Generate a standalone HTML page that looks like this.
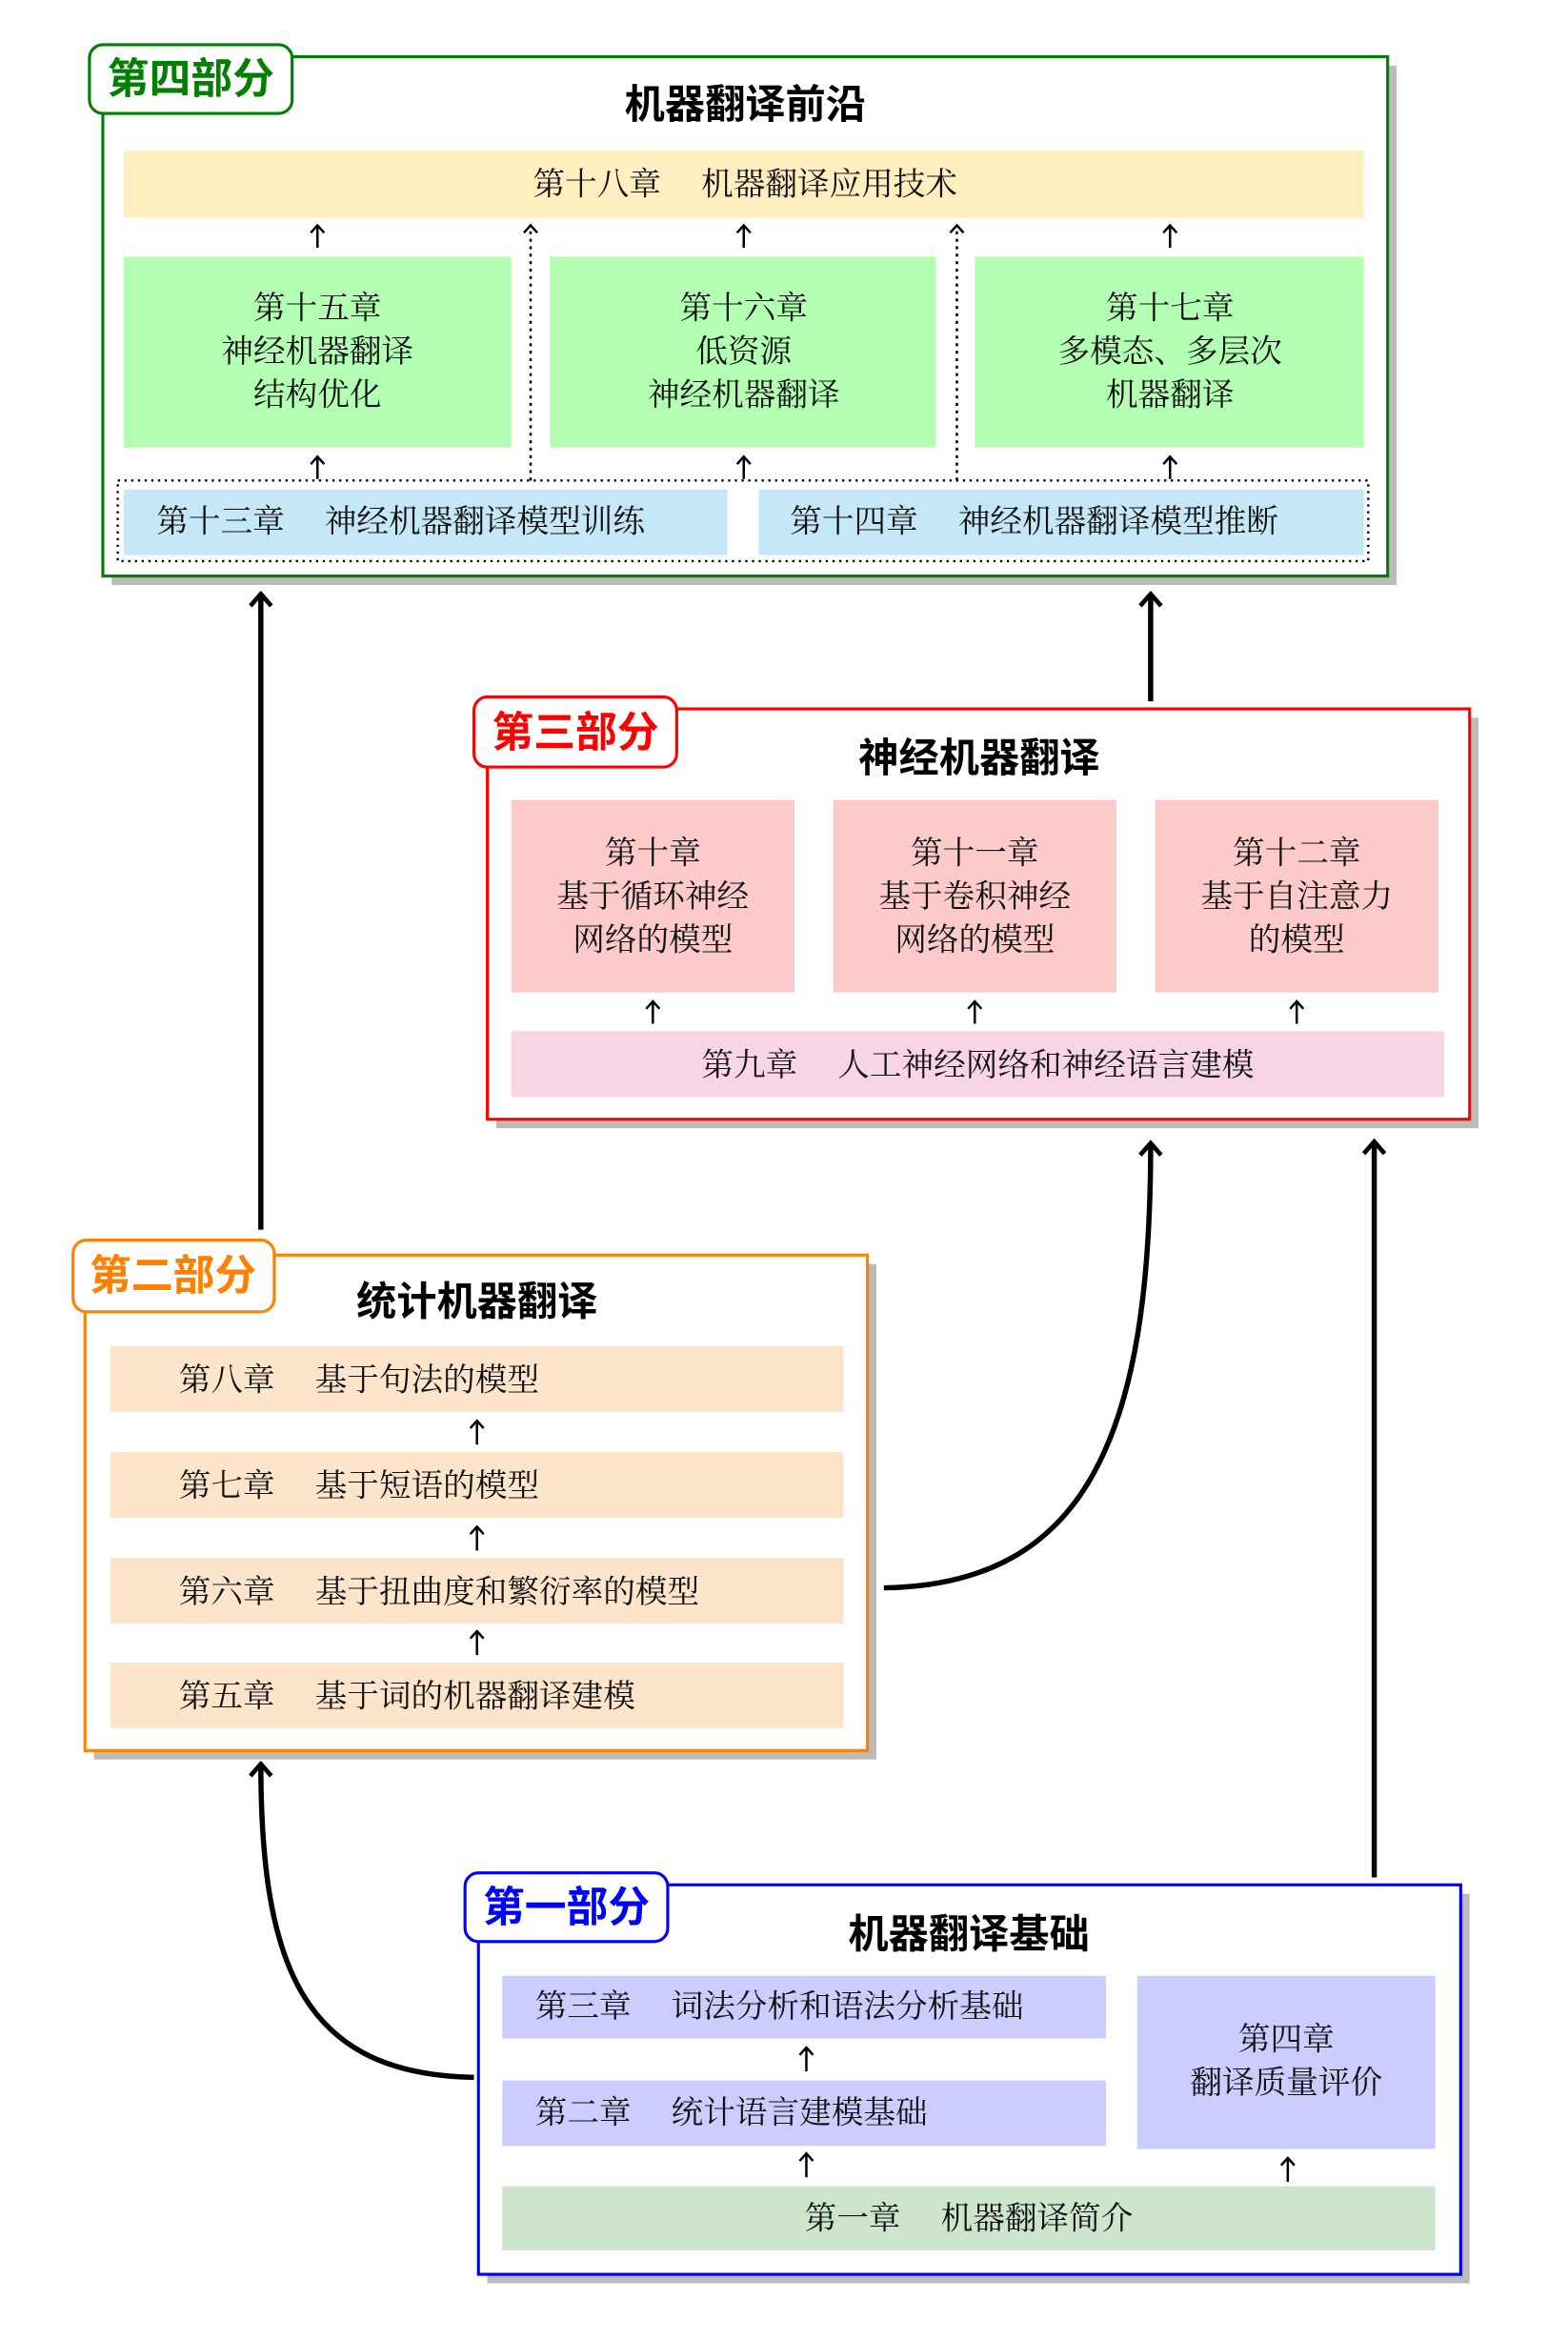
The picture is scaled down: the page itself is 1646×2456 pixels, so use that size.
<!DOCTYPE html>
<html><head><meta charset="utf-8"><style>
html,body{margin:0;padding:0;background:#fff}
svg{display:block}
.t{font-family:"Liberation Serif","Noto Serif CJK SC",serif;font-size:21.5px;fill:#111}
.h{font-family:"Liberation Sans","Noto Sans CJK SC",sans-serif;font-size:27px;font-weight:bold;fill:#000}
.l{font-family:"Liberation Sans","Noto Sans CJK SC",sans-serif;font-size:28px;font-weight:bold}
</style></head><body>
<svg width="1646" height="2456" viewBox="0 0 1052 1568" preserveAspectRatio="none" xmlns="http://www.w3.org/2000/svg">
<defs>
<marker id="a" markerWidth="10" markerHeight="10" refX="9" refY="5" orient="auto" markerUnits="userSpaceOnUse" viewBox="0 0 10 10">
<path d="M4,0.5 L9,5 L4,9.5" fill="none" stroke="#000" stroke-width="1.6"/></marker>
<marker id="b" markerWidth="16" markerHeight="16" refX="14" refY="8" orient="auto" markerUnits="userSpaceOnUse" viewBox="0 0 16 16">
<path d="M6,1 L14,8 L6,15" fill="none" stroke="#000" stroke-width="3"/></marker>
</defs>
<g text-anchor="middle" dominant-baseline="central">
<!-- Part 4 -->
<rect x="75" y="44" width="862" height="348" fill="#bbb"/>
<rect x="69" y="38" width="862" height="348" fill="#fff" stroke="#008000" stroke-width="2"/>
<rect x="60" y="30" width="136" height="46" rx="9" fill="#fff" stroke="#008000" stroke-width="2"/>
<text class="l" x="128" y="53" style="fill:#008000">第四部分</text>
<text class="h" x="500" y="70">机器翻译前沿</text>
<rect x="83" y="101" width="832" height="45" fill="#ffeebf"/>
<text class="t" x="500" y="124">第十八章　 机器翻译应用技术</text>
<rect x="83" y="172" width="260" height="128" fill="#b3ffb3"/>
<rect x="369" y="172" width="259" height="128" fill="#b3ffb3"/>
<rect x="654" y="172" width="261" height="128" fill="#b3ffb3"/>
<text class="t" x="213" y="207">第十五章</text><text class="t" x="213" y="236">神经机器翻译</text><text class="t" x="213" y="265">结构优化</text>
<text class="t" x="499" y="207">第十六章</text><text class="t" x="499" y="236">低资源</text><text class="t" x="499" y="265">神经机器翻译</text>
<text class="t" x="785" y="207">第十七章</text><text class="t" x="785" y="236">多模态、多层次</text><text class="t" x="785" y="265">机器翻译</text>
<rect x="79" y="322" width="839" height="54" fill="none" stroke="#000" stroke-width="1.5" stroke-dasharray="1.5,3"/>
<rect x="83" y="328" width="405" height="44" fill="#c5e8f8"/>
<rect x="509" y="328" width="406" height="44" fill="#c5e8f8"/>
<text class="t" x="105" y="350" text-anchor="start">第十三章　 神经机器翻译模型训练</text>
<text class="t" x="530" y="350" text-anchor="start">第十四章　 神经机器翻译模型推断</text>
<g stroke="#000" stroke-width="1.6" fill="none">
<line x1="213" y1="166" x2="213" y2="151" marker-end="url(#a)"/>
<line x1="499" y1="166" x2="499" y2="151" marker-end="url(#a)"/>
<line x1="785" y1="166" x2="785" y2="151" marker-end="url(#a)"/>
<line x1="213" y1="321" x2="213" y2="306" marker-end="url(#a)"/>
<line x1="499" y1="321" x2="499" y2="306" marker-end="url(#a)"/>
<line x1="785" y1="321" x2="785" y2="306" marker-end="url(#a)"/>
<line x1="356" y1="322" x2="356" y2="151" stroke-dasharray="2,3" marker-end="url(#a)"/>
<line x1="642" y1="322" x2="642" y2="151" stroke-dasharray="2,3" marker-end="url(#a)"/>
</g>
<!-- big connectors -->
<g stroke="#000" stroke-width="3.5" fill="none">
<line x1="175" y1="824" x2="175" y2="398" marker-end="url(#b)"/>
<line x1="772" y1="470" x2="772" y2="398" marker-end="url(#b)"/>
<path d="M593,1064 C730,1062 772,960 772,766" marker-end="url(#b)"/>
<line x1="922" y1="1258" x2="922" y2="765" marker-end="url(#b)"/>
<path d="M318,1392 C205,1390 175,1320 175,1182" marker-end="url(#b)"/>
</g>
<!-- Part 3 -->
<rect x="333" y="481" width="659" height="275" fill="#bbb"/>
<rect x="327" y="475" width="659" height="275" fill="#fff" stroke="#f00" stroke-width="2"/>
<rect x="318" y="467" width="136" height="47" rx="9" fill="#fff" stroke="#f00" stroke-width="2"/>
<text class="l" x="386" y="491" style="fill:#f00">第三部分</text>
<text class="h" x="657" y="508">神经机器翻译</text>
<rect x="343" y="536" width="190" height="129" fill="#fccaca"/>
<rect x="559" y="536" width="190" height="129" fill="#fccaca"/>
<rect x="775" y="536" width="190" height="129" fill="#fccaca"/>
<text class="t" x="438" y="572">第十章</text><text class="t" x="438" y="601">基于循环神经</text><text class="t" x="438" y="630">网络的模型</text>
<text class="t" x="654" y="572">第十一章</text><text class="t" x="654" y="601">基于卷积神经</text><text class="t" x="654" y="630">网络的模型</text>
<text class="t" x="870" y="572">第十二章</text><text class="t" x="870" y="601">基于自注意力</text><text class="t" x="870" y="630">的模型</text>
<rect x="343" y="691" width="626" height="44" fill="#f8d5e5"/>
<text class="t" x="656" y="714">第九章　 人工神经网络和神经语言建模</text>
<g stroke="#000" stroke-width="1.6">
<line x1="438" y1="686" x2="438" y2="671" marker-end="url(#a)"/>
<line x1="654" y1="686" x2="654" y2="671" marker-end="url(#a)"/>
<line x1="870" y1="686" x2="870" y2="671" marker-end="url(#a)"/>
</g>
<!-- Part 2 -->
<rect x="63" y="847" width="525" height="332" fill="#bbb"/>
<rect x="57" y="841" width="525" height="332" fill="#fff" stroke="#ff8000" stroke-width="2"/>
<rect x="49" y="831" width="135" height="48" rx="9" fill="#fff" stroke="#ff8000" stroke-width="2"/>
<text class="l" x="116" y="855" style="fill:#ff8000">第二部分</text>
<text class="h" x="320" y="872">统计机器翻译</text>
<rect x="74" y="902" width="492" height="44" fill="#fde5cb"/>
<rect x="74" y="973" width="492" height="44" fill="#fde5cb"/>
<rect x="74" y="1044" width="492" height="44" fill="#fde5cb"/>
<rect x="74" y="1114" width="492" height="44" fill="#fde5cb"/>
<text class="t" x="120" y="925" text-anchor="start">第八章　 基于句法的模型</text>
<text class="t" x="120" y="996" text-anchor="start">第七章　 基于短语的模型</text>
<text class="t" x="120" y="1067" text-anchor="start">第六章　 基于扭曲度和繁衍率的模型</text>
<text class="t" x="120" y="1137" text-anchor="start">第五章　 基于词的机器翻译建模</text>
<g stroke="#000" stroke-width="1.6">
<line x1="320" y1="968" x2="320" y2="952" marker-end="url(#a)"/>
<line x1="320" y1="1039" x2="320" y2="1023" marker-end="url(#a)"/>
<line x1="320" y1="1109" x2="320" y2="1093" marker-end="url(#a)"/>
</g>
<!-- Part 1 -->
<rect x="327" y="1269" width="659" height="261" fill="#bbb"/>
<rect x="321" y="1263" width="659" height="261" fill="#fff" stroke="#00f" stroke-width="2"/>
<rect x="312" y="1255" width="136" height="46" rx="9" fill="#fff" stroke="#00f" stroke-width="2"/>
<text class="l" x="380" y="1278" style="fill:#00f">第一部分</text>
<text class="h" x="650" y="1296">机器翻译基础</text>
<rect x="337" y="1324" width="405" height="42" fill="#ccccff"/>
<rect x="337" y="1394" width="405" height="44" fill="#ccccff"/>
<rect x="763" y="1324" width="200" height="116" fill="#ccccff"/>
<rect x="337" y="1465" width="626" height="43" fill="#cce5cc"/>
<text class="t" x="359" y="1345" text-anchor="start">第三章　 词法分析和语法分析基础</text>
<text class="t" x="359" y="1416" text-anchor="start">第二章　 统计语言建模基础</text>
<text class="t" x="863" y="1367">第四章</text><text class="t" x="863" y="1396">翻译质量评价</text>
<text class="t" x="650" y="1487">第一章　 机器翻译简介</text>
<g stroke="#000" stroke-width="1.6">
<line x1="541" y1="1388" x2="541" y2="1372" marker-end="url(#a)"/>
<line x1="541" y1="1459" x2="541" y2="1443" marker-end="url(#a)"/>
<line x1="864" y1="1462" x2="864" y2="1446" marker-end="url(#a)"/>
</g>
</g>
</svg>
</body></html>
